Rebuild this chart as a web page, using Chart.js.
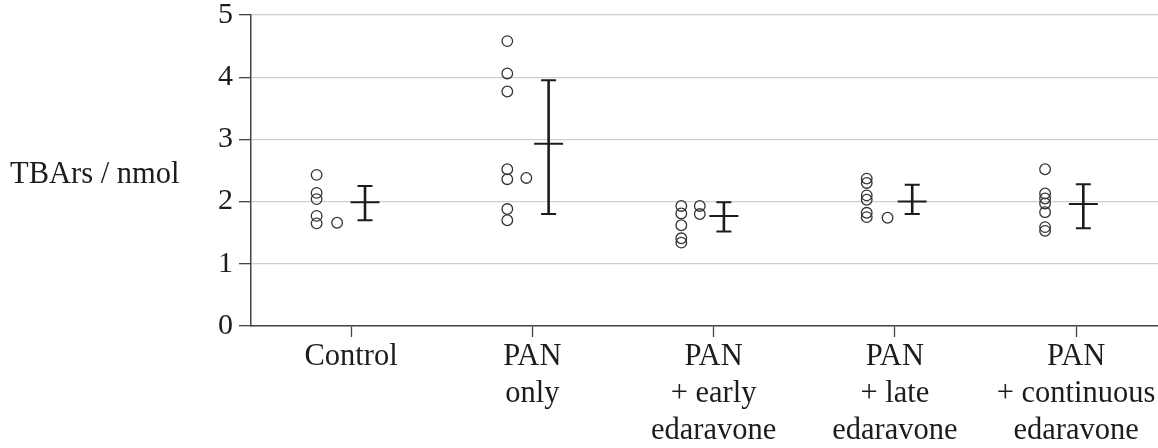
<!DOCTYPE html>
<html>
<head>
<meta charset="utf-8">
<script src="https://cdn.jsdelivr.net/npm/chart.js@4.4.1/dist/chart.umd.min.js"></script>
<style>
  html, body { margin: 0; padding: 0; background: #fff; }
  #wrap { width: 1158px; height: 448px; }
</style>
</head>
<body>
<div id="wrap"><canvas id="tbars" width="1158" height="448"></canvas></div>
<script>
// groups on the x axis (multi-line labels)
const categories = [
  ['Control'],
  ['PAN', 'only'],
  ['PAN', '+ early', 'edaravone'],
  ['PAN', '+ late', 'edaravone'],
  ['PAN', '+ continuous', 'edaravone']
];

// individual measurements, main column and side column of each group
const controlVals    = [2.43, 2.14, 2.04, 1.77, 1.65];
const panOnlyVals    = [4.58, 4.06, 3.77, 2.52, 2.36, 1.88, 1.70];
const earlyVals      = [1.93, 1.81, 1.62, 1.41, 1.34];
const lateVals       = [2.37, 2.30, 2.10, 2.03, 1.82, 1.75];
const continuousVals = [2.52, 2.13, 2.05, 1.97, 1.83, 1.59, 1.53];
const sideVals = [[1.66], [2.38], [1.93, 1.80], [1.74], []];

// mean and error bar limits
const means = [1.99, 2.93, 1.77, 2.00, 1.96];
const upper = [2.25, 3.95, 1.99, 2.27, 2.28];
const lower = [1.70, 1.80, 1.52, 1.80, 1.57];

const yTicks = [0, 1, 2, 3, 4, 5];
const yTitle = 'TBArs / nmol';

// horizontal placement inside each group (category units)
const mainShift = [-0.19, -0.138, -0.178, -0.155, -0.171];
const sideShift = [-0.077, -0.033, -0.076, -0.04, 0];
const barShift  = [0.077, 0.09, 0.057, 0.096, 0.04];

const mainCols = [controlVals, panOnlyVals, earlyVals, lateVals, continuousVals];
const points = [];
mainCols.forEach((vals, i) => {
  vals.forEach(v => points.push({ x: i + 1 + mainShift[i], y: v }));
  sideVals[i].forEach(v => points.push({ x: i + 1 + sideShift[i], y: v }));
});

const serif = '"Liberation Serif", "Times New Roman", serif';
const ink = '#1c1c1c';

// mean ± error bars and the horizontal y-axis title
const errorBars = {
  id: 'errorBars',
  afterDatasetsDraw(chart) {
    const { ctx, scales: { x, y } } = chart;
    ctx.save();
    ctx.strokeStyle = ink;
    means.forEach((m, i) => {
      const px = x.getPixelForValue(i + 1 + barShift[i]);
      const yt = y.getPixelForValue(upper[i]);
      const yb = y.getPixelForValue(lower[i]);
      const ym = y.getPixelForValue(m);
      ctx.lineWidth = 2.6;
      ctx.beginPath();
      ctx.moveTo(px, yt); ctx.lineTo(px, yb);
      ctx.stroke();
      ctx.lineWidth = 2;
      ctx.beginPath();
      ctx.moveTo(px - 7.5, yt); ctx.lineTo(px + 7.5, yt);
      ctx.moveTo(px - 7.5, yb); ctx.lineTo(px + 7.5, yb);
      ctx.moveTo(px - 14.5, ym); ctx.lineTo(px + 14.5, ym);
      ctx.stroke();
    });
    ctx.fillStyle = ink;
    ctx.font = '30.5px ' + serif;
    ctx.textBaseline = 'alphabetic';
    ctx.textAlign = 'left';
    ctx.fillText(yTitle, 10, 183);
    ctx.restore();
  }
};

new Chart(document.getElementById('tbars'), {
  type: 'scatter',
  data: {
    datasets: [{
      data: points,
      pointStyle: 'circle',
      pointRadius: 5.3,
      pointHoverRadius: 5.3,
      borderWidth: 1.3,
      borderColor: '#333',
      backgroundColor: 'rgba(0,0,0,0)'
    }]
  },
  options: {
    responsive: false,
    animation: false,
    layout: { autoPadding: false, padding: { top: 15, right: 0, left: 0, bottom: 0 } },
    plugins: { legend: { display: false }, tooltip: { enabled: false } },
    scales: {
      x: {
        type: 'linear',
        min: 0.448,
        max: 5.452,
        afterBuildTicks: s => { s.ticks = categories.map((_, i) => ({ value: i + 1 })); },
        afterFit: s => { s.height = 122; s.paddingLeft = 0; s.paddingRight = 0; },
        border: { color: '#444', width: 1.5 },
        grid: { drawOnChartArea: false, tickLength: 11, tickColor: '#444', tickWidth: 1.3 },
        ticks: {
          autoSkip: false,
          maxRotation: 0,
          padding: 2,
          color: ink,
          font: { family: serif, size: 30.5, lineHeight: 1.21 },
          callback: v => categories[Math.round(v) - 1]
        }
      },
      y: {
        min: 0,
        max: 5,
        afterBuildTicks: s => { s.ticks = yTicks.map(v => ({ value: v })); },
        afterFit: s => { s.width = 251; s.paddingTop = 0; s.paddingBottom = 0; },
        border: { color: '#444', width: 1.5 },
        grid: { color: '#cfcfcf', lineWidth: 1.3, tickLength: 12, tickColor: '#444', tickWidth: 1.3 },
        ticks: {
          padding: 6,
          color: ink,
          font: { family: serif, size: 30, lineHeight: 1 }
        }
      }
    }
  },
  plugins: [errorBars]
});
</script>
</body>
</html>
